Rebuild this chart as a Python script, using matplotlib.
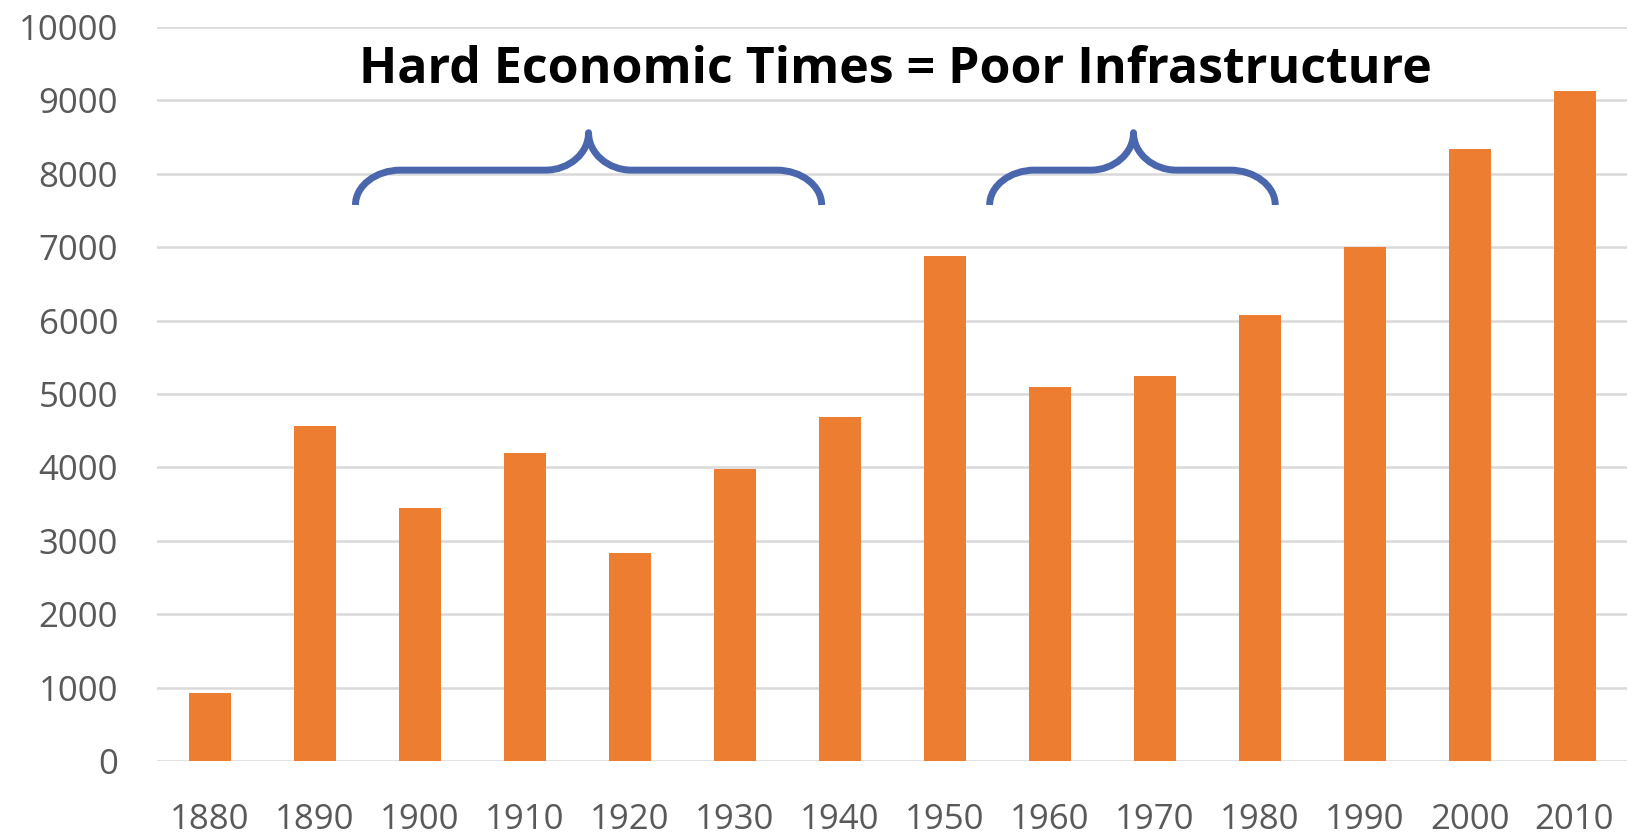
import matplotlib
matplotlib.use("Agg")
import matplotlib.pyplot as plt
from matplotlib.path import Path
from matplotlib.patches import PathPatch

years = ["1880", "1890", "1900", "1910", "1920", "1930", "1940",
         "1950", "1960", "1970", "1980", "1990", "2000", "2010"]
values = [920, 4560, 3450, 4190, 2830, 3980, 4690,
          6880, 5090, 5245, 6075, 7000, 8335, 9130]
yticks = [0, 1000, 2000, 3000, 4000, 5000, 6000, 7000, 8000, 9000, 10000]
title = "Hard Economic Times = Poor Infrastructure"
# braces: (left x, tip x, right x) in category units
braces = [(1.39, 3.61, 5.83), (7.43, 8.80, 10.15)]

W, H = 1634, 835
fig = plt.figure(figsize=(W / 100, H / 100), dpi=100)
ax = fig.add_axes([157 / W, 1 - 761 / H, (1627 - 157) / W, (761 - 27) / H])

x = list(range(len(years)))
ax.bar(x, values, width=0.4, color="#ED7D31", zorder=3)
ax.set_xlim(-0.5, len(years) - 0.5)
ax.set_ylim(0, 10000)
ax.set_yticks(yticks)
ax.set_xticks(x)
ax.set_xticklabels(years)
for s in ax.spines.values():
    s.set_visible(False)
ax.grid(axis="y", color="#D9D9D9", linewidth=1.8, zorder=0)
ax.tick_params(axis="both", length=0, labelsize=25, labelcolor="#595959")
ax.tick_params(axis="x", pad=30)
ax.tick_params(axis="y", pad=28)
for lab in ax.get_xticklabels() + ax.get_yticklabels():
    lab.set_family(["Open Sans", "DejaVu Sans"])

fig.text(895 / W, 1 - 83 / H, title, ha="center", va="baseline",
         fontsize=36, fontweight="bold", family=["Open Sans", "DejaVu Sans"], color="black")

# braces
yb, yh, yt = 7575, 8050, 8560
for (l, t, r) in braces:
    dxe = 0.43
    dxt = 0.41
    verts = [
        (l, yb),
        (l, yb + (yh - yb) * 0.55), (l + dxe * 0.45, yh), (l + dxe, yh),
        (t - dxt, yh),
        (t - dxt * 0.45, yh), (t, yh + (yt - yh) * 0.45), (t, yt),
        (t, yh + (yt - yh) * 0.45), (t + dxt * 0.45, yh), (t + dxt, yh),
        (r - dxe, yh),
        (r - dxe * 0.45, yh), (r, yb + (yh - yb) * 0.55), (r, yb),
    ]
    codes = [Path.MOVETO,
             Path.CURVE4, Path.CURVE4, Path.CURVE4,
             Path.LINETO,
             Path.CURVE4, Path.CURVE4, Path.CURVE4,
             Path.CURVE4, Path.CURVE4, Path.CURVE4,
             Path.LINETO,
             Path.CURVE4, Path.CURVE4, Path.CURVE4]
    p = PathPatch(Path(verts, codes), facecolor="none", edgecolor="#4A67AD",
                  linewidth=5, capstyle="butt", joinstyle="round", zorder=4)
    ax.add_patch(p)

fig.savefig("out.png", dpi=100)
